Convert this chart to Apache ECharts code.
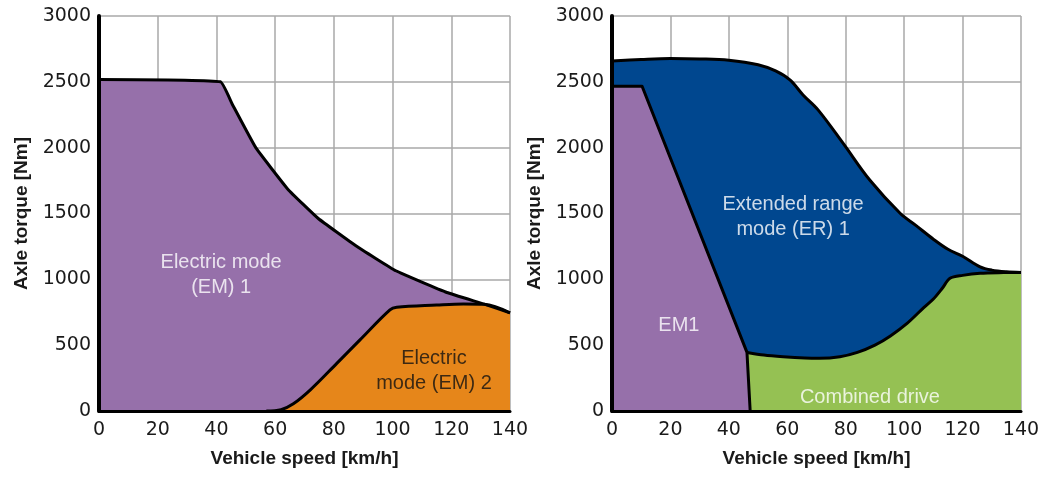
<!DOCTYPE html>
<html>
<head>
<meta charset="utf-8">
<script src="https://cdn.jsdelivr.net/npm/echarts@6/dist/echarts.min.js"></script>
<style>
  html, body { margin: 0; padding: 0; background: #ffffff; }
  #chart { width: 1048px; height: 478px; }
</style>
</head>
<body>
<div id="chart"></div>
<script>
// ---- tick labels ----
const speedTicks = [0, 20, 40, 60, 80, 100, 120, 140];
const torqueTicks = [0, 500, 1000, 1500, 2000, 2500, 3000];

// ---- left panel: [speed km/h, axle torque Nm] ----
const leftEM1 = [[0, 2518], [41.4, 2500], [45.4, 2330], [53.4, 2000], [64.4, 1683], [74.7, 1462], [87.5, 1255], [101.1, 1065], [118.5, 900], [131.2, 812], [140, 745]];
const leftEM2 = [[57, 0], [62, 10], [66.2, 55], [71.9, 159], [81, 362], [88.9, 540], [99.1, 768], [101.4, 788], [115, 805], [124.1, 813], [131.2, 810], [140, 745]];

// ---- right panel ----
const rightER1 = [[0, 2659], [10, 2670], [20, 2677], [30, 2674], [40, 2664], [50, 2630], [56, 2583], [61, 2513], [65.4, 2400], [70.6, 2285], [79.2, 2030], [88.3, 1752], [98.7, 1500], [104, 1410], [110, 1305], [115, 1228], [120, 1175], [126, 1095], [130, 1070], [135, 1057], [140, 1052]];
const rightEM1 = [[0, 2467], [10.3, 2467], [46.2, 445], [47.3, 0]];
const rightCombined = [[46.3, 445], [52, 425], [58.6, 412], [66, 402], [71, 400], [78, 412], [84, 445], [90, 500], [95.3, 570], [101, 665], [106.8, 787], [110, 850], [113, 930], [115.7, 1008], [120, 1030], [126, 1046], [134, 1051], [140, 1052]];

// ---- region names (anchored in data units) ----
const leftRegionNames = ['Electric mode\n(EM) 1', 'Electric\nmode (EM) 2'];
const leftRegionAnchors = [[41.6, 1033], [114.1, 304]];
const rightRegionNames = ['Extended range\nmode (ER) 1', 'EM1', 'Combined drive'];
const rightRegionAnchors = [[62, 1473], [22.9, 646], [88.3, 106]];

const xName = 'Vehicle speed [km/h]';
const yName = 'Axle torque [Nm]';

const C = {
  purple: '#9670aa',
  orange: '#e6861a',
  blue: '#00478f',
  green: '#95c153',
  grid: '#a9a9a9',
  text: '#1a1a1a'
};
const tickFont = { fontFamily: 'DejaVu Sans', fontSize: 19, color: C.text, formatter: v => String(v) };
const nameFont = { fontFamily: 'Liberation Sans', fontWeight: 'bold', fontSize: 19, color: C.text };

function mainX(gi) {
  return {
    type: 'value', gridIndex: gi, min: speedTicks[0], max: speedTicks[speedTicks.length - 1],
    interval: speedTicks[1] - speedTicks[0],
    axisLine: { show: false }, axisTick: { show: false },
    splitLine: { show: true, lineStyle: { color: C.grid, width: 1.5 } },
    axisLabel: Object.assign({ margin: 10 }, tickFont),
    name: xName, nameLocation: 'middle', nameGap: 38, nameTextStyle: nameFont, z: 0
  };
}
function overX(gi) {
  return {
    type: 'value', gridIndex: gi, min: speedTicks[0], max: speedTicks[speedTicks.length - 1],
    axisLine: { show: true, lineStyle: { color: '#000', width: 3 } },
    axisTick: { show: false }, axisLabel: { show: false }, splitLine: { show: false }, z: 10
  };
}
function mainY(gi) {
  return {
    type: 'value', gridIndex: gi, min: torqueTicks[0], max: torqueTicks[torqueTicks.length - 1],
    interval: torqueTicks[1] - torqueTicks[0],
    axisLine: { show: false }, axisTick: { show: false },
    splitLine: { show: true, lineStyle: { color: C.grid, width: 1.5 } },
    axisLabel: Object.assign({ margin: 8 }, tickFont),
    name: yName, nameLocation: 'middle', nameGap: 68, nameTextStyle: nameFont, z: 0
  };
}
function overY(gi) {
  return {
    type: 'value', gridIndex: gi, min: torqueTicks[0], max: torqueTicks[torqueTicks.length - 1],
    axisLine: { show: true, lineStyle: { color: '#000', width: 4 } },
    axisTick: { show: false }, axisLabel: { show: false }, splitLine: { show: false }, z: 10
  };
}

function region(data, fill, axis, smooth) {
  return {
    type: 'line', xAxisIndex: axis, yAxisIndex: axis, data: data,
    smooth: smooth, symbol: 'none', silent: true,
    lineStyle: { color: '#000', width: 3, join: 'round' },
    areaStyle: { color: fill, opacity: 1 }
  };
}
function names(labels, anchors, colors, axis) {
  return {
    type: 'scatter', xAxisIndex: axis, yAxisIndex: axis, symbolSize: 0, silent: true, z: 20,
    data: labels.map((t, i) => ({
      name: t, value: anchors[i],
      label: { show: true, position: 'inside', formatter: '{b}', color: colors[i],
               fontFamily: 'Liberation Sans', fontSize: 20, lineHeight: 25 }
    }))
  };
}

const chart = echarts.init(document.getElementById('chart'), null, { renderer: 'canvas' });
chart.setOption({
  animation: false,
  backgroundColor: '#ffffff',
  grid: [
    { left: 99, top: 16, width: 411, height: 395 },
    { left: 612, top: 16, width: 409, height: 395 }
  ],
  xAxis: [mainX(0), mainX(1), overX(0), overX(1)],
  yAxis: [mainY(0), mainY(1), overY(0), overY(1)],
  series: [
    region(leftEM1, C.purple, 0, 0.1),
    region(leftEM2, C.orange, 0, 0.35),
    region(rightER1, C.blue, 1, 0.35),
    region(rightCombined, C.green, 1, 0.3),
    region(rightEM1, C.purple, 1, false),
    names(leftRegionNames, leftRegionAnchors, ['#ffffff', '#111111'], 0),
    names(rightRegionNames, rightRegionAnchors, ['#ffffff', '#ffffff', '#ffffff'], 1)
  ]
});
</script>
</body>
</html>
